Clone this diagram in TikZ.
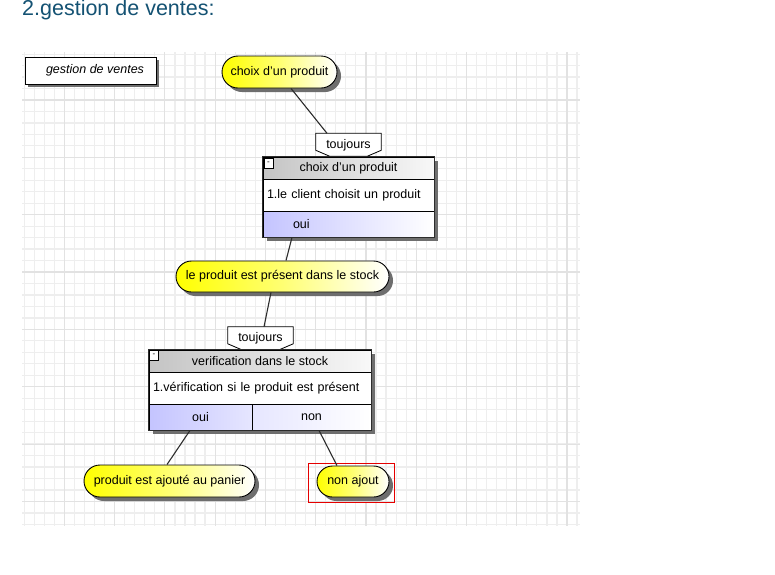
\documentclass[tikz,border=0pt]{standalone}
\usepackage{fontspec}
\setmainfont{Liberation Sans}
\usetikzlibrary{shapes.misc,shadows}
\pgfdeclarelayer{bg}
\pgfdeclarelayer{shd}
\pgfsetlayers{bg,shd,main}
\definecolor{titlecol}{RGB}{20,82,115}
\definecolor{gridminor}{RGB}{238,238,238}
\definecolor{gridmajor}{RGB}{226,226,226}
\definecolor{shadowc}{RGB}{110,110,110}
\definecolor{hdrleft}{RGB}{196,196,196}
\definecolor{hdrright}{RGB}{248,248,248}
\definecolor{footleft}{RGB}{196,196,255}
\definecolor{footmid}{RGB}{230,230,255}
\definecolor{pillyellow}{RGB}{255,255,0}
\definecolor{linec}{RGB}{45,45,45}
\tikzset{
  titletext/.style={font=\fontsize{21.5}{25}\selectfont, text=titlecol, inner sep=0pt},
  namebox/.style={draw=black, line width=1pt, fill=white, minimum width=131pt, minimum height=27pt, inner sep=0pt,
    drop shadow={shadow xshift=3pt, shadow yshift=-3pt, fill=shadowc, opacity=1}},
  pill/.style={rounded rectangle, draw=black, line width=0.9pt, left color=pillyellow, right color=white,
    middle color=pillyellow!55!white, inner sep=0pt,
    drop shadow={shadow xshift=4pt, shadow yshift=-4pt, fill=shadowc, opacity=1}},
  hdrcell/.style={draw=black, line width=0.8pt, left color=hdrleft, right color=hdrright, inner sep=0pt},
  bodycell/.style={draw=black, line width=0.8pt, fill=white, inner sep=4pt, align=left},
  footcell/.style={draw=black, line width=0.8pt, inner sep=0pt},
  minusbox/.style={draw=black, line width=0.6pt, fill=white, minimum width=9pt, minimum height=10pt, inner sep=0pt,
    font=\fontsize{8}{8}\selectfont},
  tagnode/.style={minimum width=65pt, minimum height=23pt, inner sep=0pt},
  tagshape/.style={draw=black, line width=0.8pt, fill=white},
  boxborder/.style={draw=linec, line width=1.4pt},
  conn/.style={draw=linec, line width=1.1pt},
  selbox/.style={draw=red!90!black, line width=0.9pt, minimum width=86pt, minimum height=39pt, inner sep=0pt}
}
\begin{document}
\begin{tikzpicture}[x=1pt,y=-1pt, font=\fontsize{12.5}{15}\selectfont]
\useasboundingbox (0,0) rectangle (775,574);
\begin{pgfonlayer}{bg}
  \fill[white] (0,0) rectangle (775,574);
  \foreach \i in {0,...,55} {
    \pgfmathsetmacro\xx{24.1+10.054*\i}
    \draw[gridminor, line width=1.2pt] (\xx,52) -- (\xx,526);
  }
  \foreach \k in {0,...,41} {
    \pgfmathsetmacro\yy{54.1+11.47*\k}
    \draw[gridminor, line width=1.2pt] (22,\yy) -- (580,\yy);
  }
  \foreach \j in {0,...,10} {
    \pgfmathsetmacro\xx{64.3+50.27*\j}
    \draw[gridmajor, line width=1.2pt] (\xx,52) -- (\xx,526);
  }
  \foreach \j in {0,...,7} {
    \pgfmathsetmacro\yy{100+57.35*\j}
    \draw[gridmajor, line width=1.2pt] (22,\yy) -- (580,\yy);
  }
\end{pgfonlayer}

% title
\node[titletext, anchor=base west] (title) at (22,15.5) {2.gestion de ventes:};

% name box
\node[namebox] (gv) at (90.5,70.5) {\hspace*{9pt}\itshape gestion de ventes};

% first pill
\node[pill, minimum width=115pt, minimum height=32pt] (c1) at (279.5,72) {choix d'un produit};

% first tag (position)
\node[tagnode] (t1) at (348.5,145) {};

% first box
\node[hdrcell, minimum width=171pt, minimum height=22pt] (h1) at (348.5,168) {choix d'un produit};
\node[bodycell, text width=163pt, minimum height=32pt] (b1) at (348.5,195) {1.le client choisit un produit};
\node[footcell, left color=footleft, right color=white, text width=171pt, minimum height=26pt, align=left] (f1) at (348.5,224) {\hspace*{30pt}oui};
\draw[boxborder] (h1.north west) rectangle (f1.south east);
\node[minusbox] (m1) at (268.5,163.5) {-};
\begin{pgfonlayer}{shd}
  \fill[shadowc] ([shift={(4,4)}]h1.north west) rectangle ([shift={(4,4)}]f1.south east);
\end{pgfonlayer}

% tag 1 outline
\path[tagshape] (t1.north west) -- (t1.north east) -- ([shift={(0,17)}]t1.north east)
  -- ([shift={(-14,23)}]t1.north east) -- ([shift={(14,23)}]t1.north west) -- ([shift={(0,17)}]t1.north west) -- cycle;
\node[tagnode] (t1txt) at (t1.center) {toujours};

% second pill
\node[pill, minimum width=213pt, minimum height=31pt] (p2) at (282.5,276.5) {le produit est présent dans le stock};

% second tag
\node[tagnode] (t2) at (260.5,338.5) {};
\path[tagshape] (t2.north west) -- (t2.north east) -- ([shift={(0,17)}]t2.north east)
  -- ([shift={(-14,23)}]t2.north east) -- ([shift={(14,23)}]t2.north west) -- ([shift={(0,17)}]t2.north west) -- cycle;
\node[tagnode] (t2txt) at (t2.center) {toujours};

% second box
\node[hdrcell, minimum width=222pt, minimum height=22pt] (h2) at (260,361) {verification dans le stock};
\node[bodycell, text width=214pt, minimum height=32pt] (b2) at (260,388) {1.vérification si le produit est présent};
\node[footcell, left color=footleft, right color=footmid, minimum width=103pt, minimum height=26pt] (f2a) at (200.5,417) {oui};
\node[footcell, left color=footmid, right color=white, minimum width=119pt, minimum height=26pt] (f2b) at (311.5,417) {non};
\draw[boxborder] (h2.north west) rectangle (f2b.south east);
\node[minusbox] (m2) at (154,355.5) {-};
\begin{pgfonlayer}{shd}
  \fill[shadowc] ([shift={(4,4)}]h2.north west) rectangle ([shift={(4,4)}]f2b.south east);
\end{pgfonlayer}

% bottom pills
\node[pill, minimum width=171pt, minimum height=32pt] (p3) at (169.5,481) {produit est ajouté au panier};
\node[pill, minimum width=72pt, minimum height=31pt] (p4) at (353,481.5) {non ajout};
\node[selbox] (sel) at (351,482.5) {};

% connectors
\draw[conn] ([xshift=11.5pt]c1.south) -- ([xshift=-21.5pt]t1.north);
\draw[conn] ([xshift=-56.5pt]f1.south) -- ([xshift=3.5pt]p2.north);
\draw[conn] ([xshift=-11.5pt]p2.south) -- ([xshift=3.5pt]t2.north);
\draw[conn] ([xshift=-10.5pt]f2a.south) -- ([xshift=-2.5pt]p3.north);
\draw[conn] ([xshift=7.5pt]f2b.south) -- ([xshift=-16pt]p4.north);
\end{tikzpicture}
\end{document}
